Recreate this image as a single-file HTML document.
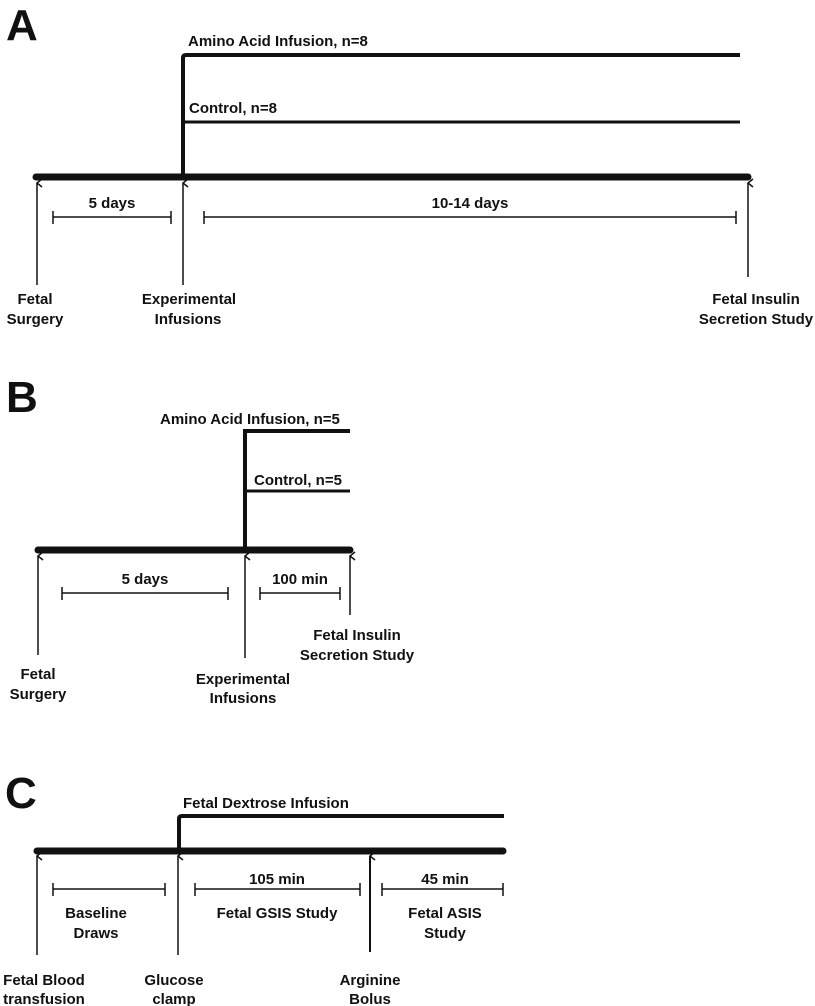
<!DOCTYPE html>
<html><head><meta charset="utf-8"><style>
html,body{margin:0;padding:0;background:#fff;}
svg{display:block;}
text{font-family:"Liberation Sans",Arial,sans-serif;font-weight:bold;fill:#111;font-size:15px;}
.big{font-size:44px;}
.m{text-anchor:middle;}
</style></head><body>
<svg width="815" height="1006" viewBox="0 0 815 1006" xmlns="http://www.w3.org/2000/svg">
<defs>
<marker id="ah" markerWidth="10" markerHeight="10" refX="5" refY="1" orient="auto" markerUnits="userSpaceOnUse">
<path d="M1,6 L5,1 L9,6" fill="none" stroke="#111" stroke-width="1.5"/>
</marker>
</defs>
<g stroke="#111" fill="none">
<!-- A -->
<line x1="36" y1="177" x2="748" y2="177" stroke-width="7" stroke-linecap="round"/>
<path d="M183,177 V58 Q183,55 186,55 H740" stroke-width="4"/>
<line x1="183" y1="122" x2="740" y2="122" stroke-width="3"/>
<line x1="37" y1="285" x2="37" y2="183" stroke-width="1.5" marker-end="url(#ah)"/>
<line x1="183" y1="285" x2="183" y2="183" stroke-width="1.5" marker-end="url(#ah)"/>
<line x1="748" y1="277" x2="748" y2="183" stroke-width="1.5" marker-end="url(#ah)"/>
<path d="M53,211 V224 M53,217 H171 M171,211 V224" stroke-width="1.5"/>
<path d="M204,211 V224 M204,217 H736 M736,211 V224" stroke-width="1.5"/>
<!-- B -->
<line x1="38" y1="550" x2="350" y2="550" stroke-width="7" stroke-linecap="round"/>
<path d="M245,550 V431 H350" stroke-width="4"/>
<line x1="245" y1="491" x2="350" y2="491" stroke-width="3"/>
<line x1="38" y1="655" x2="38" y2="556" stroke-width="1.5" marker-end="url(#ah)"/>
<line x1="245" y1="658" x2="245" y2="556" stroke-width="1.5" marker-end="url(#ah)"/>
<line x1="350" y1="615" x2="350" y2="556" stroke-width="1.5" marker-end="url(#ah)"/>
<path d="M62,587 V600 M62,593 H228 M228,587 V600" stroke-width="1.5"/>
<path d="M260,587 V600 M260,593 H340 M340,587 V600" stroke-width="1.5"/>
<!-- C -->
<line x1="37" y1="851" x2="503" y2="851" stroke-width="7" stroke-linecap="round"/>
<path d="M179,851 V819 Q179,816 182,816 H504" stroke-width="4"/>
<line x1="37" y1="955" x2="37" y2="856" stroke-width="1.5" marker-end="url(#ah)"/>
<line x1="178" y1="955" x2="178" y2="856" stroke-width="1.5" marker-end="url(#ah)"/>
<line x1="370" y1="952" x2="370" y2="856" stroke-width="2" marker-end="url(#ah)"/>
<path d="M53,883 V896 M53,889 H165 M165,883 V896" stroke-width="1.5"/>
<path d="M195,883 V896 M195,889 H360 M360,883 V896" stroke-width="1.5"/>
<path d="M382,883 V896 M382,889 H503 M503,883 V896" stroke-width="1.5"/>
</g>
<!-- A text -->
<text class="big" x="6" y="40">A</text>
<text x="188" y="46">Amino Acid Infusion, n=8</text>
<text x="189" y="113">Control, n=8</text>
<text class="m" x="112" y="208">5 days</text>
<text class="m" x="470" y="208">10-14 days</text>
<text class="m" x="35" y="304">Fetal</text>
<text class="m" x="35" y="324">Surgery</text>
<text class="m" x="189" y="304">Experimental</text>
<text class="m" x="188" y="324">Infusions</text>
<text class="m" x="756" y="304">Fetal Insulin</text>
<text class="m" x="756" y="324">Secretion Study</text>
<!-- B -->
<text class="big" x="6" y="412">B</text>
<text x="160" y="424">Amino Acid Infusion, n=5</text>
<text x="254" y="485">Control, n=5</text>
<text class="m" x="145" y="584">5 days</text>
<text class="m" x="300" y="584">100 min</text>
<text class="m" x="38" y="679">Fetal</text>
<text class="m" x="38" y="699">Surgery</text>
<text class="m" x="243" y="684">Experimental</text>
<text class="m" x="243" y="703">Infusions</text>
<text class="m" x="357" y="640">Fetal Insulin</text>
<text class="m" x="357" y="660">Secretion Study</text>
<!-- C -->
<text class="big" x="5" y="808">C</text>
<text x="183" y="808">Fetal Dextrose Infusion</text>
<text class="m" x="277" y="884">105 min</text>
<text class="m" x="445" y="884">45 min</text>
<text class="m" x="96" y="918">Baseline</text>
<text class="m" x="96" y="938">Draws</text>
<text class="m" x="277" y="918">Fetal GSIS Study</text>
<text class="m" x="445" y="918">Fetal ASIS</text>
<text class="m" x="445" y="938">Study</text>
<text class="m" x="44" y="985">Fetal Blood</text>
<text class="m" x="44" y="1004">transfusion</text>
<text class="m" x="174" y="985">Glucose</text>
<text class="m" x="174" y="1004">clamp</text>
<text class="m" x="370" y="985">Arginine</text>
<text class="m" x="370" y="1004">Bolus</text>
</svg>
</body></html>
